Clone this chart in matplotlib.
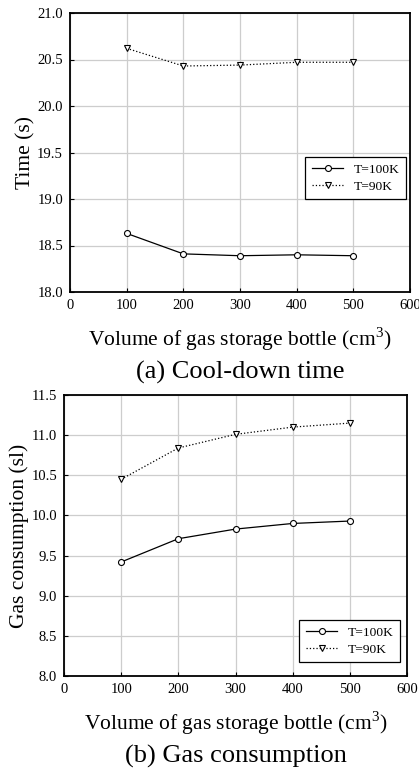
import numpy as np
import matplotlib.pyplot as plt

plt.rcParams['font.family'] = ['Liberation Serif', 'DejaVu Serif']
plt.rcParams['mathtext.fontset'] = 'custom'
plt.rcParams['mathtext.rm'] = 'Liberation Serif'

volume = [100, 200, 300, 400, 500]
time_100k = [18.63, 18.41, 18.39, 18.40, 18.39]
time_90k = [20.62, 20.43, 20.44, 20.47, 20.47]
gas_100k = [9.42, 9.71, 9.83, 9.90, 9.93]
gas_90k = [10.45, 10.84, 11.01, 11.10, 11.15]

W, H = 419, 769
fig = plt.figure(figsize=(W / 100, H / 100), dpi=100)

def box(l, t, r, b):
    return [l / W, 1 - b / H, (r - l) / W, (b - t) / H]

ax1 = fig.add_axes(box(70, 13, 410, 292))
ax2 = fig.add_axes(box(64, 395, 407, 676))

def style(ax, y100, y90, ylim, yticks, ylabel, ylpad, title, legpos):
    ax.plot(volume, y100, '-', color='black', lw=0.9, marker='o', ms=4.3,
            mfc='white', mec='black', mew=0.8, label='T=100K')
    ax.plot(volume, y90, ':', color='black', lw=0.9, marker='v', ms=4.3,
            mfc='white', mec='black', mew=0.8, label='T=90K')
    ax.set_xlim(0, 600)
    ax.set_ylim(*ylim)
    ax.set_xticks(range(0, 601, 100))
    ax.set_yticks(yticks)
    ax.set_yticklabels(['%.1f' % v for v in yticks])
    ax.tick_params(direction='in', length=3, width=0.8, labelsize=10.5, pad=5)
    ax.grid(True, color='#cdcdcd', lw=0.9)
    ax.set_axisbelow(True)
    for s in ax.spines.values():
        s.set_linewidth(1.3)
    ax.set_ylabel(ylabel, fontsize=15.5, labelpad=ylpad)
    # x label and panel caption below the axes
    ax.annotate('Volume of gas storage bottle (cm$^3$)', xy=(0.5, 0),
                xycoords='axes fraction', xytext=(0, -38.9),
                textcoords='offset points', ha='center', va='baseline',
                fontsize=15.5)
    ax.annotate(title, xy=(0.5, 0), xycoords='axes fraction',
                xytext=(0, -62), textcoords='offset points',
                ha='center', va='baseline', fontsize=19)
    leg = ax.legend(loc='upper left', bbox_to_anchor=legpos, fontsize=9.7,
                    frameon=True, fancybox=False, edgecolor='black',
                    framealpha=1, handlelength=2.35, handletextpad=0.75,
                    borderpad=0.5, borderaxespad=0, labelspacing=0.3)
    leg.get_frame().set_linewidth(0.9)

style(ax1, time_100k, time_90k, (18.0, 21.0), np.arange(18.0, 21.01, 0.5),
      'Time (s)', 1, '(a) Cool-down time',
      ((305 - 70) / 340, (292 - 157) / 279))
style(ax2, gas_100k, gas_90k, (8.0, 11.5), np.arange(8.0, 11.51, 0.5),
      'Gas consumption (sl)', 2, '(b) Gas consumption',
      ((299 - 64) / 343, (676 - 620) / 281))

fig.savefig('out.png', dpi=100)
